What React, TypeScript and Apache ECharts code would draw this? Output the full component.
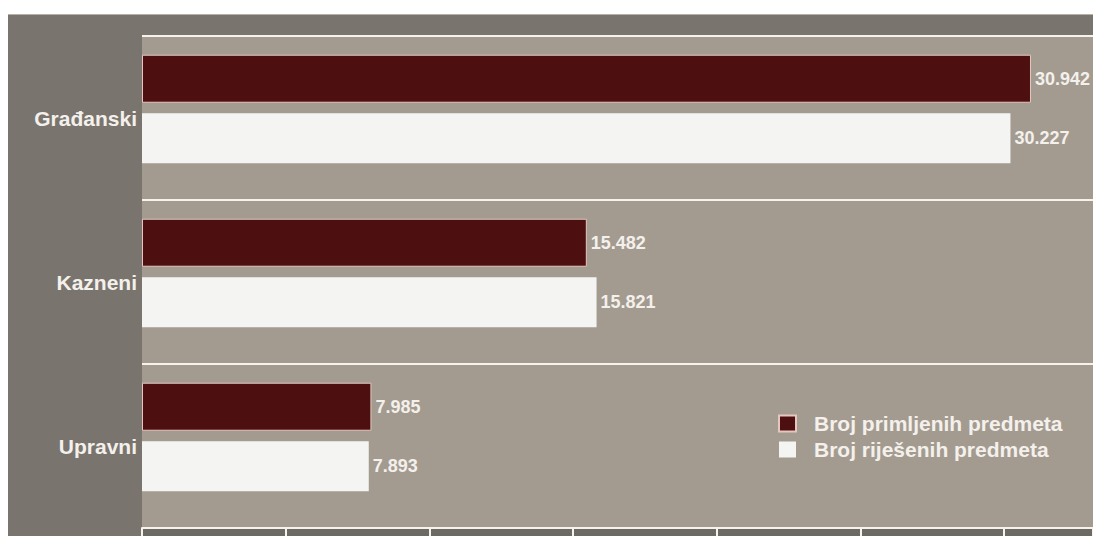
import React, { useEffect, useRef } from "react";
import * as echarts from "echarts";

const categories = ["Građanski", "Kazneni", "Upravni"];
const received = [30942, 15482, 7985];
const resolved = [30227, 15821, 7893];
const seriesNames = ["Broj primljenih predmeta", "Broj riješenih predmeta"];
const axisMin = 0;
const axisMax = 33100;
const axisInterval = 5000;

const fmt = (n: number) =>
  n >= 1000 ? Math.floor(n / 1000) + "." + String(n % 1000).padStart(3, "0") : String(n);

const FONT = "'Liberation Sans', Arial, sans-serif";
const TXT = "#f4f0ec";

export default function App() {
  const ref = useRef<HTMLDivElement>(null);
  useEffect(() => {
    if (!ref.current) return;
    const chart = echarts.init(ref.current, undefined, { renderer: "svg" });
    const labelStyle = {
      show: true,
      position: "right" as const,
      distance: 4,
      color: TXT,
      fontWeight: "bold" as const,
      fontSize: 18,
      fontFamily: FONT,
      formatter: (p: any) => fmt(p.value),
    };
    chart.setOption({
      animation: false,
      backgroundColor: "#ffffff",
      graphic: [
        { type: "rect", z: -10, shape: { x: 8, y: 14, width: 1085, height: 522 }, style: { fill: "#79746d" } },
        { type: "line", z: -9, shape: { x1: 8, y1: 14.5, x2: 1093, y2: 14.5 }, style: { stroke: "#b9b1a8", lineWidth: 1 } },
        { type: "rect", z: -9, shape: { x: 142, y: 529, width: 951, height: 7 }, style: { fill: "#6c6863" } },
      ],
      grid: [
        { left: 142, top: 36, right: 0, bottom: 8, show: true, backgroundColor: "#a39b90", borderWidth: 0 },
        { left: 142, top: 27, right: 0, height: 492 },
      ],
      legend: {
        orient: "vertical",
        left: 778,
        top: 413,
        padding: 0,
        itemWidth: 17,
        itemHeight: 16,
        itemGap: 5,
        icon: "rect",
        textStyle: {
          color: TXT,
          fontWeight: "bold",
          fontSize: 21,
          fontFamily: FONT,
          padding: [0, 0, 0, 13],
        },
        data: seriesNames,
      },
      xAxis: [
        {
          gridIndex: 0,
          type: "value",
          min: axisMin,
          max: axisMax,
          interval: axisInterval,
          axisLine: { show: true, lineStyle: { color: "#f6f3ef", width: 2 } },
          axisTick: { show: true, length: 8, lineStyle: { color: "#f6f3ef", width: 2 } },
          axisLabel: { show: false },
          splitLine: { show: false },
        },
        {
          gridIndex: 1,
          type: "value",
          min: axisMin,
          max: axisMax,
          interval: axisInterval,
          show: false,
          splitLine: { show: false },
        },
      ],
      yAxis: [
        {
          gridIndex: 0,
          type: "category",
          inverse: true,
          data: categories,
          axisLine: { show: false },
          axisTick: { show: false },
          axisLabel: { color: TXT, fontWeight: "bold", fontSize: 21, fontFamily: FONT, margin: 5 },
          splitLine: { show: true, lineStyle: { color: "#f6f3ef", width: 2 } },
        },
        {
          gridIndex: 1,
          type: "category",
          inverse: true,
          data: categories,
          show: false,
        },
      ],
      series: [
        {
          name: seriesNames[0],
          type: "bar",
          xAxisIndex: 1,
          yAxisIndex: 1,
          data: received,
          barWidth: 48,
          barGap: "22%",
          itemStyle: { color: "#4e0f10", borderColor: "#e6c7bf", borderWidth: 1 },
          label: labelStyle,
        },
        {
          name: seriesNames[1],
          type: "bar",
          xAxisIndex: 1,
          yAxisIndex: 1,
          data: resolved,
          barWidth: 50,
          itemStyle: { color: "#f4f4f2" },
          label: labelStyle,
        },
      ],
    });
    return () => chart.dispose();
  }, []);
  return (
    <div
      ref={ref}
      style={{ position: "fixed", left: 0, top: 0, width: 1093, height: 536 }}
    />
  );
}
